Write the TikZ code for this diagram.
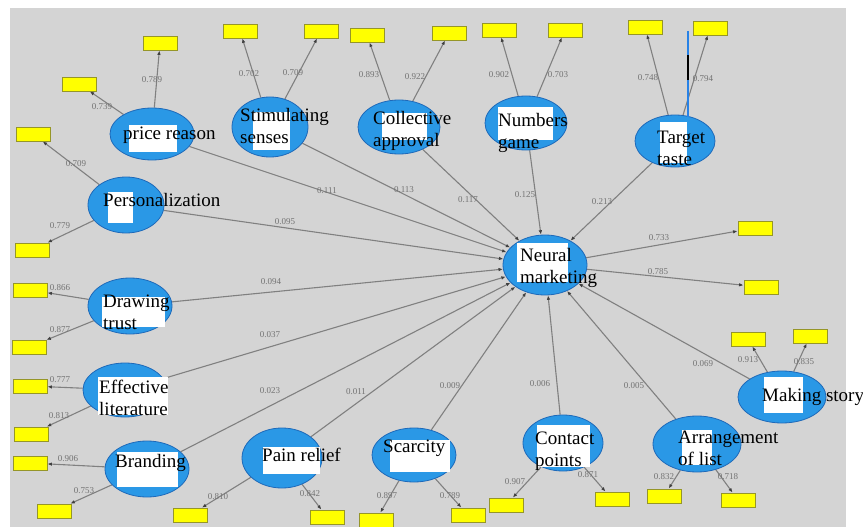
\documentclass[tikz,border=0pt]{standalone}
\usepackage{fontspec}
\setmainfont{Liberation Serif}
\usetikzlibrary{shapes.geometric,arrows.meta}
\definecolor{bggray}{RGB}{212,212,212}
\definecolor{latblue}{RGB}{42,152,230}
\definecolor{latborder}{RGB}{30,105,185}
\definecolor{linegray}{RGB}{128,128,128}
\definecolor{labgray}{RGB}{115,115,115}
\definecolor{indyellow}{RGB}{255,255,0}
\definecolor{indborder}{RGB}{150,150,40}
\definecolor{markblue}{RGB}{40,130,230}
\pgfdeclarelayer{bg}
\pgfsetlayers{bg,main}
\begin{document}
\begin{tikzpicture}[x=1pt,y=-1pt,
  lat/.style={ellipse, draw=latborder, fill=latblue, line width=0.8pt, inner sep=0pt},
  wbox/.style={fill=white, inner sep=0pt, anchor=north west},
  ltext/.style={font=\fontsize{19}{22}\selectfont, anchor=west, inner sep=0pt, align=left},
  ind/.style={rectangle, fill=indyellow, draw=indborder, line width=0.8pt, minimum width=34pt, minimum height=14pt, inner sep=0pt},
  lnk/.style={draw=linegray, line width=1.1pt, -{Latex[length=4.5pt,width=3.5pt,color=black!75]}},
  val/.style={font=\fontsize{9}{10}\selectfont, text=labgray, inner sep=0pt}
]
\useasboundingbox (0,0) rectangle (863,527);

% ---------- latent variables ----------
\node[lat, minimum width=84pt, minimum height=52pt] (pr) at (152,134) {};
\node[lat, minimum width=76pt, minimum height=60pt] (ss) at (270,127) {};
\node[lat, minimum width=82pt, minimum height=54pt] (ca) at (399,127) {};
\node[lat, minimum width=82pt, minimum height=54pt] (ng) at (526,123) {};
\node[lat, minimum width=80pt, minimum height=52pt] (tt) at (675,141) {};
\node[lat, minimum width=76pt, minimum height=56pt] (pe) at (126,205) {};
\node[lat, minimum width=84pt, minimum height=56pt] (dt) at (130,306) {};
\node[lat, minimum width=84pt, minimum height=54pt] (el) at (125,390) {};
\node[lat, minimum width=84pt, minimum height=56pt] (br) at (147,469) {};
\node[lat, minimum width=80pt, minimum height=60pt] (pn) at (282,458) {};
\node[lat, minimum width=84pt, minimum height=54pt] (sc) at (414,455) {};
\node[lat, minimum width=80pt, minimum height=56pt] (cp) at (563,443) {};
\node[lat, minimum width=88pt, minimum height=56pt] (al) at (697,444) {};
\node[lat, minimum width=88pt, minimum height=52pt] (ms) at (782,397) {};
\node[lat, minimum width=84pt, minimum height=60pt] (nm) at (545,265) {};

% ---------- white boxes ----------
\node[wbox, minimum width=48pt, minimum height=27pt] (prw) at (129,125) {};
\node[wbox, minimum width=37pt, minimum height=38pt] (ssw) at (253,112) {};
\node[wbox, minimum width=45pt, minimum height=27pt] (caw) at (382,113) {};
\node[wbox, minimum width=55pt, minimum height=33pt] (ngw) at (498,107) {};
\node[wbox, minimum width=27pt, minimum height=41pt] (ttw) at (660,122) {};
\node[wbox, minimum width=25pt, minimum height=31pt] (pew) at (108,192) {};
\node[wbox, minimum width=63pt, minimum height=30pt] (dtw) at (102,297) {};
\node[wbox, minimum width=70pt, minimum height=38pt] (elw) at (98,377) {};
\node[wbox, minimum width=61pt, minimum height=35pt] (brw) at (117,452) {};
\node[wbox, minimum width=57pt, minimum height=27pt] (pnw) at (263,447) {};
\node[wbox, minimum width=60pt, minimum height=32pt] (scw) at (390,440) {};
\node[wbox, minimum width=53pt, minimum height=42pt] (cpw) at (537,425) {};
\node[wbox, minimum width=30pt, minimum height=35pt] (alw) at (682,430) {};
\node[wbox, minimum width=39pt, minimum height=36pt] (msw) at (764,377) {};
\node[wbox, minimum width=51pt, minimum height=39pt] (nmw) at (517,243) {};

% ---------- names ----------
\node[ltext] (prt) at (123,135) {price reason};
\node[ltext] (sst) at (240,126) {Stimulating\\senses};
\node[ltext] (cat) at (373,131) {Collective\\approval};
\node[ltext] (ngt) at (498,133) {Numbers\\game};
\node[ltext] (ttt) at (657,148) {Target\\taste};
\node[ltext] (pet) at (103,200) {Personalization};
\node[ltext] (dtt) at (103,312) {Drawing\\trust};
\node[ltext] (elt) at (99,398) {Effective\\literature};
\node[ltext] (brt) at (115,463) {Branding};
\node[ltext] (pnt) at (262,455) {Pain relief};
\node[ltext] (sct) at (383,448) {Scarcity};
\node[ltext] (cpt) at (535,451) {Contact\\points};
\node[ltext] (alt) at (678,448) {Arrangement\\of list};
\node[ltext] (mst) at (762,397) {Making story};
\node[ltext] (nmt) at (520,268) {Neural\\marketing};

% ---------- indicators ----------
\node[ind] (pr1) at (160,43) {};  \node[ind] (pr2) at (79,84) {};
\node[ind] (ss1) at (240,31) {};  \node[ind] (ss2) at (321,31) {};
\node[ind] (ca1) at (367,35) {};  \node[ind] (ca2) at (449,33) {};
\node[ind] (ng1) at (499,30) {};  \node[ind] (ng2) at (565,30) {};
\node[ind] (tt1) at (645,27) {};  \node[ind] (tt2) at (710,28) {};
\node[ind] (pe1) at (33,134) {};  \node[ind] (pe2) at (32,250) {};
\node[ind] (dt1) at (30,290) {};  \node[ind] (dt2) at (29,347) {};
\node[ind] (el1) at (30,386) {};  \node[ind] (el2) at (31,434) {};
\node[ind] (br1) at (30,463) {};  \node[ind] (br2) at (54,511) {};
\node[ind] (pn1) at (190,515) {}; \node[ind] (pn2) at (327,517) {};
\node[ind] (sc1) at (376,520) {}; \node[ind] (sc2) at (468,515) {};
\node[ind] (cp1) at (506,505) {}; \node[ind] (cp2) at (612,499) {};
\node[ind] (al1) at (664,496) {}; \node[ind] (al2) at (738,500) {};
\node[ind] (ms1) at (748,339) {}; \node[ind] (ms2) at (810,336) {};
\node[ind] (nm1) at (755,228) {}; \node[ind] (nm2) at (761,287) {};

% ---------- loadings ----------
\node[val] (vpr1) at (152,80) {0.789};  \node[val] (vpr2) at (102,107) {0.739};
\node[val] (vss1) at (249,74) {0.702};  \node[val] (vss2) at (293,73) {0.709};
\node[val] (vca1) at (369,75) {0.893};  \node[val] (vca2) at (415,77) {0.922};
\node[val] (vng1) at (499,75) {0.902};  \node[val] (vng2) at (558,75) {0.703};
\node[val] (vtt1) at (648,78) {0.748};  \node[val] (vtt2) at (703,79) {0.794};
\node[val] (vpe1) at (76,164) {0.709};  \node[val] (vpe2) at (60,226) {0.779};
\node[val] (vdt1) at (60,288) {0.866};  \node[val] (vdt2) at (60,330) {0.877};
\node[val] (vel1) at (60,380) {0.777};  \node[val] (vel2) at (59,416) {0.813};
\node[val] (vbr1) at (68,459) {0.906};  \node[val] (vbr2) at (84,491) {0.753};
\node[val] (vpn1) at (218,497) {0.810}; \node[val] (vpn2) at (310,494) {0.842};
\node[val] (vsc1) at (387,496) {0.897}; \node[val] (vsc2) at (450,496) {0.789};
\node[val] (vcp1) at (515,482) {0.907}; \node[val] (vcp2) at (588,475) {0.871};
\node[val] (val1) at (664,477) {0.832}; \node[val] (val2) at (728,477) {0.718};
\node[val] (vms1) at (748,360) {0.913}; \node[val] (vms2) at (804,362) {0.835};
\node[val] (vnm1) at (659,238) {0.733}; \node[val] (vnm2) at (658,272) {0.785};

% ---------- path coefficients ----------
\node[val] (cpr) at (327,191) {0.111};
\node[val] (css) at (404,190) {0.113};
\node[val] (cca) at (468,200) {0.117};
\node[val] (cng) at (525,195) {0.125};
\node[val] (ctt) at (602,202) {0.213};
\node[val] (cpe) at (285,222) {0.095};
\node[val] (cdt) at (271,282) {0.094};
\node[val] (cel) at (270,335) {0.037};
\node[val] (cbr) at (270,391) {0.023};
\node[val] (cpn) at (356,392) {0.011};
\node[val] (csc) at (450,386) {0.009};
\node[val] (ccp) at (540,384) {0.006};
\node[val] (cal) at (634,386) {0.005};
\node[val] (cms) at (703,364) {0.069};

\coordinate (bl1) at (688,31);
\coordinate (bl2) at (688,117);
\coordinate (bk1) at (688,55);
\coordinate (bk2) at (688,80);

% ---------- background and connectors ----------
\begin{pgfonlayer}{bg}
  \fill[bggray] (10,8) rectangle (846,527);
  \foreach \a in {pr,ss,ca,ng,tt,pe,dt,el,br,pn,sc,cp,al,ms}{
    \draw[lnk] (\a) -- (nm);
    \draw[lnk] (\a) -- (\a1);
    \draw[lnk] (\a) -- (\a2);
  }
  \draw[lnk] (nm) -- (nm1);
  \draw[lnk] (nm) -- (nm2);
\end{pgfonlayer}
\draw[markblue, line width=1.4pt] (bl1) -- (bl2);
\draw[black, line width=1.2pt] (bk1) -- (bk2);
\end{tikzpicture}
\end{document}
